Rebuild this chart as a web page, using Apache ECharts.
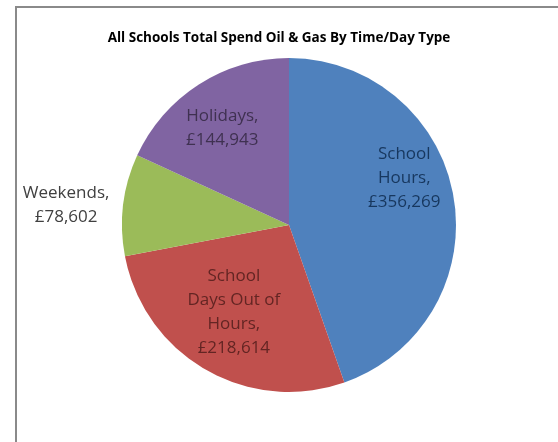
<!DOCTYPE html>
<html>
<head>
<meta charset="utf-8">
<script src="https://cdn.jsdelivr.net/npm/echarts@6/dist/echarts.min.js"></script>
<style>
  html, body { margin: 0; padding: 0; background: #ffffff; }
  #chart { width: 558px; height: 442px; }
</style>
</head>
<body>
<div id="chart"></div>
<script>
// Spend per time/day type, clockwise from 12 o'clock
const categories = ['School Hours', 'School Days Out of Hours', 'Weekends', 'Holidays'];
const labelNames = ['School\nHours', 'School\nDays Out of\nHours', 'Weekends', 'Holidays'];
const spend = [356269, 218614, 78602, 144943];

const sliceColors = ['#4F81BD', '#C0504D', '#9BBB59', '#8064A2'];
const labelColors = ['#17375E', '#632523', '#404040', '#3F3151'];
// nudges from the default inside-label spot (best-fit placement)
const labelShift = [[30, -32], [-12, 12], [-137, -9], [-20, -24]];

const fmt = v => '£' + v.toLocaleString('en-GB');

const chart = echarts.init(document.getElementById('chart'), null, { renderer: 'canvas' });

chart.setOption({
  backgroundColor: '#ffffff',
  animation: false,
  title: {
    text: 'All Schools Total Spend Oil & Gas By Time/Day Type',
    left: 'center',
    top: 26,
    textStyle: {
      fontFamily: 'Open Sans',
      fontWeight: 'bold',
      fontSize: 13.5,
      color: '#000000'
    }
  },
  graphic: [{
    type: 'rect',
    shape: { x: 16, y: 7, width: 560, height: 460 },
    style: { fill: 'none', stroke: '#8a8a8a', lineWidth: 2 },
    silent: true
  }],
  series: [{
    type: 'pie',
    center: [289, 225],
    radius: 167,
    startAngle: 90,
    clockwise: true,
    avoidLabelOverlap: false,
    itemStyle: { borderWidth: 0 },
    label: {
      show: true,
      position: 'inside',
      fontFamily: 'Open Sans',
      fontSize: 17,
      lineHeight: 24,
      align: 'center',
      formatter: p => labelNames[p.dataIndex] + ',\n' + fmt(p.value)
    },
    labelLine: { show: false },
    labelLayout: p => ({ dx: labelShift[p.dataIndex][0], dy: labelShift[p.dataIndex][1] }),
    emphasis: { disabled: true },
    data: categories.map((name, i) => ({
      name: name,
      value: spend[i],
      itemStyle: { color: sliceColors[i] },
      label: { color: labelColors[i] }
    }))
  }]
});
</script>
</body>
</html>
